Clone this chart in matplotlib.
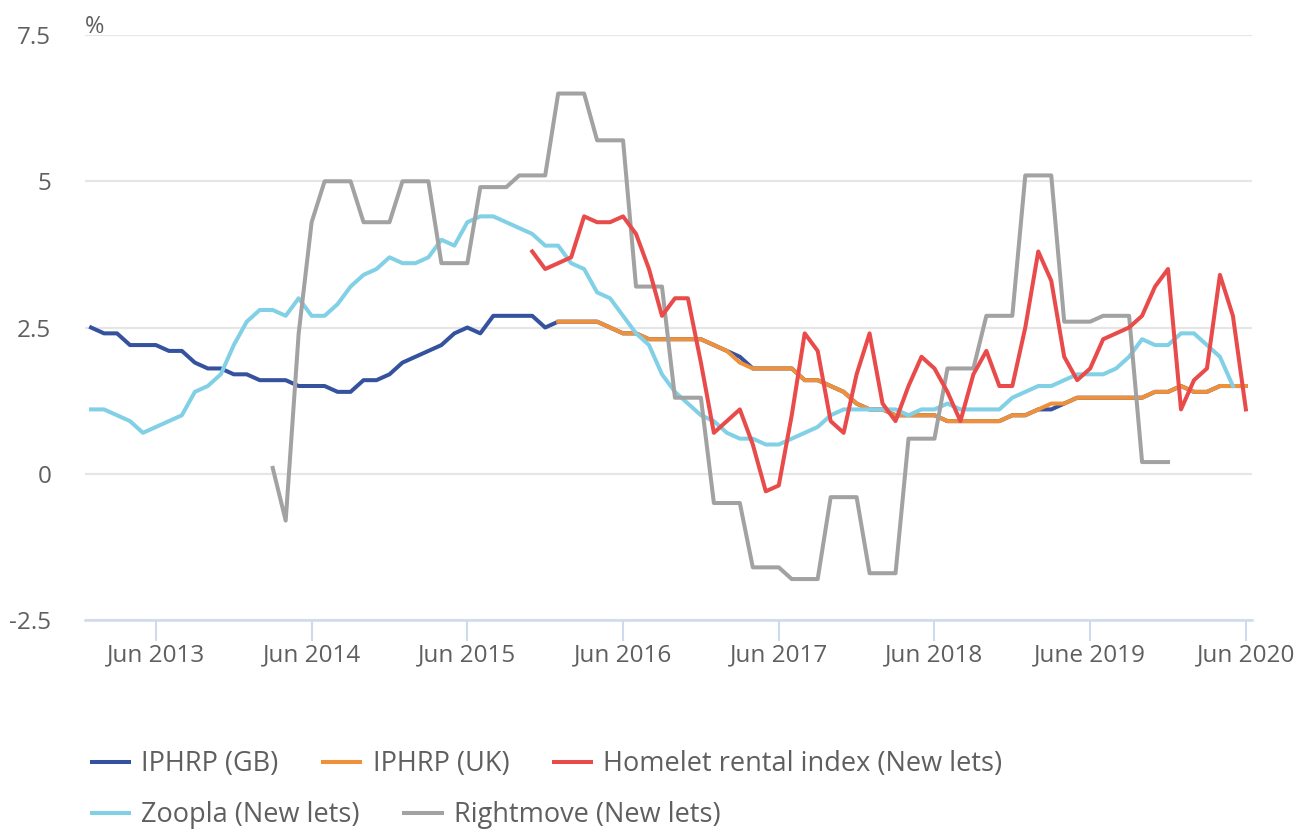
import numpy as np
import matplotlib.pyplot as plt

plt.rcParams['font.family'] = ['Open Sans', 'DejaVu Sans']

# monthly, Jan 2013 .. Jun 2020 (90 months)
n_months = 90
tick_idx = [5, 17, 29, 41, 53, 65, 77, 89]
tick_labels = ["Jun 2013", "Jun 2014", "Jun 2015", "Jun 2016",
               "Jun 2017", "Jun 2018", "June 2019", "Jun 2020"]

iphrp_gb = [2.5, 2.4, 2.4, 2.2, 2.2, 2.2, 2.1, 2.1, 1.9, 1.8,
            1.8, 1.7, 1.7, 1.6, 1.6, 1.6, 1.5, 1.5, 1.5, 1.4,
            1.4, 1.6, 1.6, 1.7, 1.9, 2.0, 2.1, 2.2, 2.4, 2.5,
            2.4, 2.7, 2.7, 2.7, 2.7, 2.5, 2.6, 2.6, 2.6, 2.6,
            2.5, 2.4, 2.4, 2.3, 2.3, 2.3, 2.3, 2.3, 2.2, 2.1,
            2.0, 1.8, 1.8, 1.8, 1.8, 1.6, 1.6, 1.5, 1.4, 1.2,
            1.1, 1.1, 1.0, 1.0, 1.0, 1.0, 0.9, 0.9, 0.9, 0.9,
            0.9, 1.0, 1.0, 1.1, 1.1, 1.2, 1.3, 1.3, 1.3, 1.3,
            1.3, 1.3, 1.4, 1.4, 1.5, 1.4, 1.4, 1.5, 1.5, 1.5]

iphrp_uk = [None] * 36 + [
    2.6, 2.6, 2.6, 2.6,
    2.5, 2.4, 2.4, 2.3, 2.3, 2.3, 2.3, 2.3, 2.2, 2.1,
    1.9, 1.8, 1.8, 1.8, 1.8, 1.6, 1.6, 1.5, 1.4, 1.2,
    1.1, 1.1, 1.0, 1.0, 1.0, 1.0, 0.9, 0.9, 0.9, 0.9,
    0.9, 1.0, 1.0, 1.1, 1.2, 1.2, 1.3, 1.3, 1.3, 1.3,
    1.3, 1.3, 1.4, 1.4, 1.5, 1.4, 1.4, 1.5, 1.5, 1.5]

homelet = [None] * 34 + [
    3.8, 3.5, 3.6, 3.7, 4.4, 4.3,
    4.3, 4.4, 4.1, 3.5, 2.7, 3.0, 3.0, 1.9, 0.7, 0.9,
    1.1, 0.5, -0.3, -0.2, 1.0, 2.4, 2.1, 0.9, 0.7, 1.7,
    2.4, 1.2, 0.9, 1.5, 2.0, 1.8, 1.4, 0.9, 1.7, 2.1,
    1.5, 1.5, 2.5, 3.8, 3.3, 2.0, 1.6, 1.8, 2.3, 2.4,
    2.5, 2.7, 3.2, 3.5, 1.1, 1.6, 1.8, 3.4, 2.7, 1.1]

zoopla = [1.1, 1.1, 1.0, 0.9, 0.7, 0.8, 0.9, 1.0, 1.4, 1.5,
          1.7, 2.2, 2.6, 2.8, 2.8, 2.7, 3.0, 2.7, 2.7, 2.9,
          3.2, 3.4, 3.5, 3.7, 3.6, 3.6, 3.7, 4.0, 3.9, 4.3,
          4.4, 4.4, 4.3, 4.2, 4.1, 3.9, 3.9, 3.6, 3.5, 3.1,
          3.0, 2.7, 2.4, 2.2, 1.7, 1.4, 1.2, 1.0, 0.9, 0.7,
          0.6, 0.6, 0.5, 0.5, 0.6, 0.7, 0.8, 1.0, 1.1, 1.1,
          1.1, 1.1, 1.1, 1.0, 1.1, 1.1, 1.2, 1.1, 1.1, 1.1,
          1.1, 1.3, 1.4, 1.5, 1.5, 1.6, 1.7, 1.7, 1.7, 1.8,
          2.0, 2.3, 2.2, 2.2, 2.4, 2.4, 2.2, 2.0, 1.5, None]

rightmove = [None] * 14 + [
    0.1, -0.8, 2.4, 4.3, 5.0, 5.0,
    5.0, 4.3, 4.3, 4.3, 5.0, 5.0, 5.0, 3.6, 3.6, 3.6,
    4.9, 4.9, 4.9, 5.1, 5.1, 5.1, 6.5, 6.5, 6.5, 5.7,
    5.7, 5.7, 3.2, 3.2, 3.2, 1.3, 1.3, 1.3, -0.5, -0.5,
    -0.5, -1.6, -1.6, -1.6, -1.8, -1.8, -1.8, -0.4, -0.4, -0.4,
    -1.7, -1.7, -1.7, 0.6, 0.6, 0.6, 1.8, 1.8, 1.8, 2.7,
    2.7, 2.7, 5.1, 5.1, 5.1, 2.6, 2.6, 2.6, 2.7, 2.7,
    2.7, 0.2, 0.2, 0.2] + [None] * 6

series = [
    ("IPHRP (GB)", iphrp_gb, "#35529E"),
    ("IPHRP (UK)", iphrp_uk, "#EE913A"),
    ("Zoopla (New lets)", zoopla, "#82D0E6"),
    ("Rightmove (New lets)", rightmove, "#A2A2A2"),
    ("Homelet rental index (New lets)", homelet, "#E94B4B"),
]

fig = plt.figure(figsize=(13.07, 8.32), dpi=100)
ax = fig.add_axes([0.0647, 0.2548, 0.8935, 0.7031])

x = np.arange(n_months)
handles = {}
for name, vals, col in series:
    y = np.array([np.nan if v is None else v for v in vals], dtype=float)
    ln, = ax.plot(x, y, color=col, lw=2.9, solid_joinstyle='round')
    handles[name] = ln

ax.set_xlim(-0.5, n_months - 0.5)
ax.set_ylim(-2.5, 7.5)
ax.set_yticks([-2.5, 0, 2.5, 5, 7.5])
ax.set_yticklabels(["-2.5", "0", "2.5", "5", "7.5"])
ax.set_xticks(tick_idx)
ax.set_xticklabels(tick_labels)

ax.grid(axis='y', color='#E6E6E6', lw=1.6)
ax.set_axisbelow(True)
for s in ['left', 'right', 'top']:
    ax.spines[s].set_visible(False)
ax.spines['bottom'].set_color('#D0DAEE')
ax.spines['bottom'].set_linewidth(1.8)
ax.tick_params(axis='x', length=15, width=1.5, color='#D0DAEE', pad=2,
               labelsize=17.5, labelcolor='#5F5F5F')
ax.tick_params(axis='y', length=0, pad=24, labelsize=17.5, labelcolor='#5F5F5F')

fig.text(0.065, 0.967, "%", fontsize=17, color='#5F5F5F', ha='left', va='center')

row1 = ["IPHRP (GB)", "IPHRP (UK)", "Homelet rental index (New lets)"]
row2 = ["Zoopla (New lets)", "Rightmove (New lets)"]
kw = dict(frameon=False, fontsize=19.5, handlelength=1.37, handletextpad=0.45,
          columnspacing=1.65, borderpad=0, borderaxespad=0, labelcolor='#5F5F5F',
          loc='center left')
fig.legend([handles[n] for n in row1], row1, ncol=3,
           bbox_to_anchor=(0.0704, 0.0817), **kw)
fig.legend([handles[n] for n in row2], row2, ncol=2,
           bbox_to_anchor=(0.0704, 0.0204), **kw)

fig.savefig("out.png", dpi=100)
